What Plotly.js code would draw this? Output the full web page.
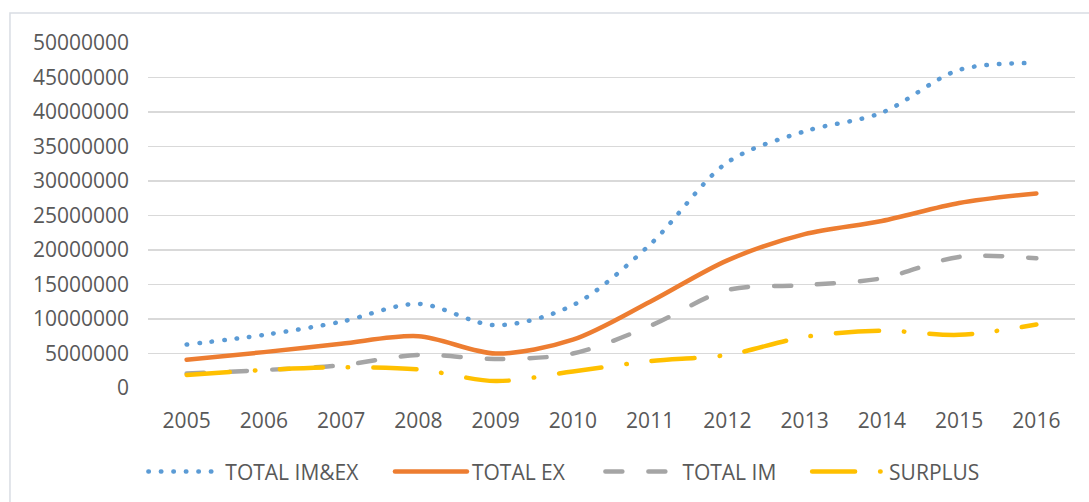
<!DOCTYPE html>
<html>
<head>
<meta charset="utf-8">
<script src="https://cdn.plot.ly/plotly-3.0.1.min.js"></script>
<style>
  html, body { margin: 0; padding: 0; background: #ffffff; }
  #chart { width: 1089px; height: 502px; }
  /* rounded ends so the dotted and dash-dot patterns read as dots */
  .scatterlayer .js-line, .legendlines path { stroke-linecap: round; }
</style>
</head>
<body>
<div id="chart"></div>
<script>
// Trade totals by year
const years = ['2005','2006','2007','2008','2009','2010','2011','2012','2013','2014','2015','2016'];
const totalImEx = [6300000, 7700000, 9600000, 12200000, 9100000, 12000000, 20800000, 32700000, 37200000, 39900000, 46100000, 47100000];
const totalEx   = [4100000, 5200000, 6400000, 7500000, 5000000, 7000000, 12500000, 18500000, 22300000, 24200000, 26800000, 28200000];
const totalIm   = [2100000, 2600000, 3300000, 4800000, 4200000, 5000000, 9000000, 14200000, 14900000, 15900000, 19000000, 18800000];
const surplus   = [1900000, 2600000, 3000000, 2700000, 1000000, 2400000, 3900000, 4800000, 7400000, 8300000, 7700000, 9200000];
const seriesNames = ['TOTAL IM&EX', 'TOTAL EX', 'TOTAL IM', 'SURPLUS'];

const textColor = '#595959';
const fontFamily = '"Open Sans", "DejaVu Sans", sans-serif';

function series(name, y, color, dash, legendId) {
  return {
    type: 'scatter', mode: 'lines', name: name, x: years, y: y,
    line: { color: color, width: 4.5, dash: dash, shape: 'spline', smoothing: 0.9 },
    legend: legendId, hoverinfo: 'x+y+name'
  };
}

const data = [
  series(seriesNames[0], totalImEx, '#5B9BD5', '0.5px,12px', 'legend'),
  series(seriesNames[1], totalEx,   '#ED7D31', 'solid', 'legend2'),
  series(seriesNames[2], totalIm,   '#A5A5A5', '17px,26px', 'legend3'),
  series(seriesNames[3], surplus,   '#FFC000', '43px,25px,0.5px,25px', 'legend4')
];

function legendAt(x) {
  return {
    x: x, xanchor: 'left', y: -0.243, yanchor: 'middle',
    orientation: 'h', itemwidth: 72, bgcolor: 'rgba(0,0,0,0)',
    font: { family: fontFamily, size: 21, color: textColor },
    itemclick: false, itemdoubleclick: false
  };
}

const layout = {
  width: 1089, height: 502,
  margin: { l: 148, r: 14, t: 43, b: 114, autoexpand: false },
  paper_bgcolor: '#ffffff', plot_bgcolor: '#ffffff',
  font: { family: fontFamily, size: 21, color: textColor },
  showlegend: true,
  legend:  legendAt(-0.005),
  legend2: legendAt(0.261),
  legend3: legendAt(0.488),
  legend4: legendAt(0.711),
  xaxis: {
    type: 'category', range: [-0.5, 11.5],
    showgrid: false, zeroline: false, showline: false,
    ticks: '', ticklabelstandoff: 18,
    tickfont: { family: fontFamily, size: 21, color: textColor }
  },
  yaxis: {
    range: [0, 50000000], dtick: 5000000, tick0: 0, tickformat: 'd',
    showgrid: true, gridcolor: '#D9D9D9', gridwidth: 1.5,
    zeroline: false, showline: false, ticks: '', ticklabelstandoff: 18,
    tickfont: { family: fontFamily, size: 21, color: textColor }
  },
  shapes: [{
    type: 'rect', xref: 'paper', yref: 'paper',
    x0: -0.1489, x1: 1.05, y0: -0.5, y1: 1.087,
    line: { color: '#D9DDE3', width: 1.5 }, fillcolor: 'rgba(0,0,0,0)', layer: 'below'
  }]
};

Plotly.newPlot('chart', data, layout, { displayModeBar: false, staticPlot: true });
</script>
</body>
</html>
